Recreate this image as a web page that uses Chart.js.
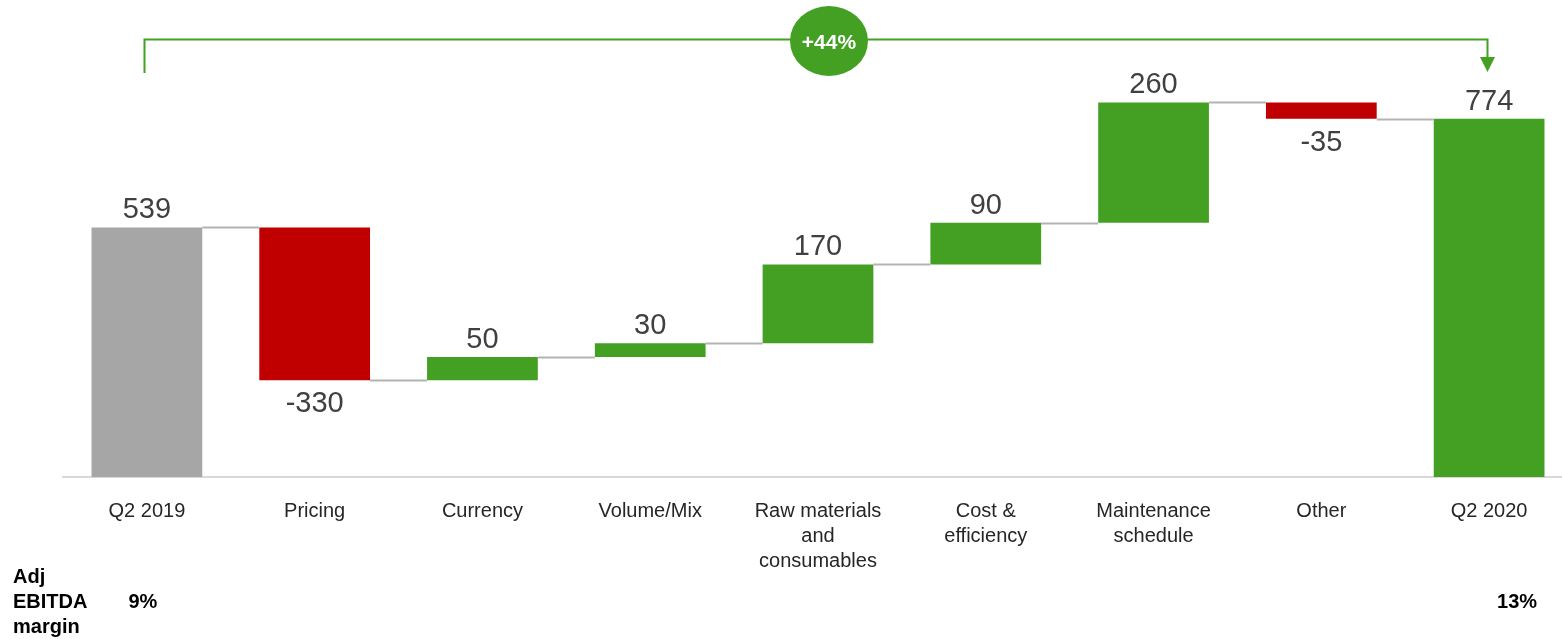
<!DOCTYPE html>
<html>
<head>
<meta charset="utf-8">
<script src="https://cdn.jsdelivr.net/npm/chart.js@4.4.1/dist/chart.umd.min.js"></script>
<style>
  html, body { margin: 0; padding: 0; background: #fff; overflow: hidden; }
  #wrap { position: relative; width: 1573px; height: 639px; }
</style>
</head>
<body>
<div id="wrap"><canvas id="bridgeChart"></canvas></div>
<script>
// DATA
const categories = [
    'Q2 2019', 'Pricing', 'Currency', 'Volume/Mix',
    ['Raw materials', 'and', 'consumables'],
    ['Cost &', 'efficiency'],
    ['Maintenance', 'schedule'],
    'Other', 'Q2 2020'
];
const changes = [539, -330, 50, 30, 170, 90, 260, -35, 774];
const barKinds = ['start', 'step', 'step', 'step', 'step', 'step', 'step', 'step', 'total'];
const marginTitle = ['Adj', 'EBITDA', 'margin'];
const margins = ['9%', '', '', '', '', '', '', '', '13%'];
const growthLabel = '+44%';

const GREEN = '#43a023';
const RED = '#c00000';
const GREY = '#a6a6a6';

// build floating bars from the running total
let running = 0;
const ranges = [];
const levels = [];
changes.forEach((v, i) => {
    if (barKinds[i] === 'step') {
        ranges.push([running, running + v]);
        running += v;
    } else {
        ranges.push([0, v]);
        running = v;
    }
    levels.push(running);
});

const colors = changes.map((v, i) => {
    if (barKinds[i] === 'start') return GREY;
    if (barKinds[i] === 'total') return GREEN;
    return v < 0 ? RED : GREEN;
});

const extras = {
    id: 'extras',
    afterDatasetsDraw(chart) {
        const c = chart.ctx;
        const y = chart.scales.y;
        const bars = chart.getDatasetMeta(0).data;

        // connectors
        c.save();
        c.strokeStyle = '#b3b3b3';
        c.lineWidth = 2;
        for (let i = 0; i < bars.length - 1; i++) {
            const py = Math.round(y.getPixelForValue(levels[i])) + 0.5;
            c.beginPath();
            c.moveTo(bars[i].x + bars[i].width / 2, py);
            c.lineTo(bars[i + 1].x - bars[i + 1].width / 2, py);
            c.stroke();
        }

        // value labels
        c.fillStyle = '#404040';
        c.font = '29px "Liberation Sans", Arial, sans-serif';
        c.textAlign = 'center';
        c.textBaseline = 'alphabetic';
        bars.forEach((b, i) => {
            const top = Math.min(b.y, b.base);
            const bottom = Math.max(b.y, b.base);
            if (changes[i] < 0) {
                c.fillText(String(changes[i]), b.x, bottom + 32);
            } else {
                c.fillText(String(changes[i]), b.x, top - 9);
            }
        });

        // growth bracket
        const first = bars[0], last = bars[bars.length - 1];
        const x1 = Math.round(first.x) - 2.5, x2 = Math.round(last.x) - 1.5;
        const lineY = 39.5;
        c.strokeStyle = GREEN;
        c.lineWidth = 2;
        c.beginPath();
        c.moveTo(x1, 73);
        c.lineTo(x1, lineY);
        c.lineTo(x2, lineY);
        c.lineTo(x2, 58);
        c.stroke();
        c.fillStyle = GREEN;
        c.beginPath();
        c.moveTo(x2 - 7.5, 57);
        c.lineTo(x2 + 7.5, 57);
        c.lineTo(x2, 72);
        c.closePath();
        c.fill();

        const cx = (first.x + last.x) / 2 + 11;
        c.beginPath();
        c.ellipse(cx, 41, 39, 35, 0, 0, Math.PI * 2);
        c.fill();
        c.fillStyle = '#ffffff';
        c.font = 'bold 21px "Liberation Sans", Arial, sans-serif';
        c.textBaseline = 'middle';
        c.fillText(growthLabel, cx, 43);

        // margin row
        c.fillStyle = '#000000';
        c.font = 'bold 20px "Liberation Sans", Arial, sans-serif';
        c.textAlign = 'left';
        c.textBaseline = 'alphabetic';
        marginTitle.forEach((t, k) => c.fillText(t, 13, 583 + k * 25));
        c.textAlign = 'center';
        margins.forEach((m, i) => {
            if (!m) return;
            const dx = i === 0 ? -4 : 28;
            c.fillText(m, bars[i].x + dx, 608);
        });
        c.restore();
    }
};

new Chart(document.getElementById('bridgeChart'), {
    type: 'bar',
    data: {
        labels: categories,
        datasets: [{
            data: ranges,
            backgroundColor: colors,
            borderWidth: 0,
            barPercentage: 0.66,
            categoryPercentage: 1
        }]
    },
    options: {
        responsive: true,
        maintainAspectRatio: false,
        animation: false,
        layout: { padding: { left: 63, right: 0, top: 14, bottom: 43 } },
        plugins: {
            legend: { display: false },
            tooltip: { enabled: false }
        },
        scales: {
            x: {
                grid: { display: false, drawTicks: false },
                border: { display: true, color: '#d9d9d9', width: 2 },
                ticks: {
                    color: '#262626',
                    padding: 22,
                    maxRotation: 0,
                    autoSkip: false,
                    font: { family: '"Liberation Sans", Arial, sans-serif', size: 20, lineHeight: 1.25 }
                }
            },
            y: {
                display: false,
                min: 0,
                max: 1000
            }
        }
    },
    plugins: [extras]
});
</script>
</body>
</html>
